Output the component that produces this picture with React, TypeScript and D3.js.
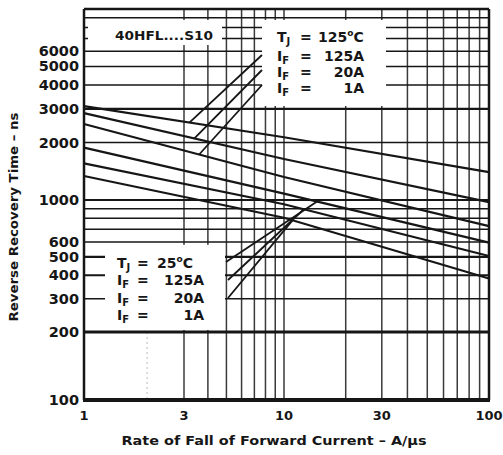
import React from 'react';
import * as d3 from 'd3';

const W = 503;
const H = 455;

// rate of fall of forward current, A/us
const rateTicks = [1, 3, 10, 30, 100];
const rateGrid = [3, 4, 5, 6, 7, 8, 9, 10, 20, 30, 40, 50, 60, 70, 80, 90];
const rateFaint = [2];

// reverse recovery time, ns
const timeTicks = [100, 200, 300, 400, 500, 600, 1000, 2000, 3000, 4000, 5000, 6000];
const timeGrid = [200, 300, 400, 500, 600, 700, 800, 900, 1000, 2000, 3000, 4000, 5000, 6000, 7000, 8000, 9000];
const heavyGrid: Record<number, number> = { 200: 3, 500: 2.4, 400: 2, 3000: 2.4, 1000: 2 };

// curves read at 1, 10, 100 A/us
const rates = [1, 10, 100];
const hot125A = [3100, 2130, 1400];
const hot20A = [2850, 1640, 975];
const hot1A = [2500, 1320, 727];
const cold125A = [1880, 1080, 595];
const cold20A = [1555, 950, 505];
const cold1A = [1336, 805, 384];

const hotCurves = [hot125A, hot20A, hot1A];
const coldCurves = [cold125A, cold20A, cold1A];

// where the legend pointers touch their curve (A/us)
const hotPointerRates = [3.2, 3.4, 3.6];
const coldPointerRates = [14.5, 12.5, 11];

const currents = ['125A', '20A', '1A'];

const FONT = '"DejaVu Sans", sans-serif';
const INK = '#161616';

// the scanned sheet is not quite uniform, so the log axes are piecewise
const x = d3.scaleLog().domain([1, 3, 10, 100]).range([84, 184, 284, 489]);
const y = d3.scaleLog().domain([100, 200, 1000, 10000]).range([400, 332, 200, 9]);

const left = x(1);
const right = x(100);
const top = y(10000);
const bottom = y(100);

const line = d3
  .line<number>()
  .x((_, i) => x(rates[i]))
  .y((d) => y(d));

// point on the drawn polyline at a given rate
function onCurve(values: number[], r: number): [number, number] {
  const px = x(r);
  let i = 0;
  while (i < rates.length - 2 && r > rates[i + 1]) i++;
  const x0 = x(rates[i]);
  const x1 = x(rates[i + 1]);
  const t = (px - x0) / (x1 - x0);
  return [px, y(values[i]) + t * (y(values[i + 1]) - y(values[i]))];
}

function Legend({
  tX, eqX, tempX, valEnd, rows, temp,
}: {
  tX: number; eqX: number; tempX: number; valEnd: number; rows: number[]; temp: string;
}) {
  const fs = 14;
  return (
    <g fontFamily={FONT} fontWeight="bold" fontSize={fs} fill={INK}>
      <text y={rows[0]}>
        <tspan x={tX}>T</tspan>
        <tspan dy={3} fontSize={10}>J</tspan>
        <tspan x={eqX} dy={-3}>=</tspan>
        <tspan x={tempX}>{temp}</tspan>
        <tspan dy={-6} fontSize={9}>o</tspan>
        <tspan dy={6}>C</tspan>
      </text>
      {currents.map((c, i) => (
        <g key={c}>
          <text y={rows[i + 1]}>
            <tspan x={tX}>I</tspan>
            <tspan dy={3} fontSize={10}>F</tspan>
            <tspan x={eqX} dy={-3}>=</tspan>
          </text>
          <text x={valEnd} y={rows[i + 1]} textAnchor="end">{c}</text>
        </g>
      ))}
    </g>
  );
}

export default function App() {
  const hotRows = [42, 61, 77, 93];
  const coldRows = [268, 285, 303, 320];
  const hotPointerEnds: [number, number][] = [[262, 55], [262, 70], [262, 85]];
  const coldPointerStarts: [number, number][] = [[226, 262], [228, 280], [228, 298]];

  return (
    <svg
      width={W}
      height={H}
      viewBox={`0 0 ${W} ${H}`}
      style={{ position: 'absolute', left: 0, top: 0, background: '#fff' }}
    >
      <rect width={W} height={H} fill="#fff" />

      {/* grid */}
      {rateGrid.map((r) => (
        <line key={'v' + r} x1={x(r)} x2={x(r)} y1={top} y2={bottom} stroke="#3a3a3a" strokeWidth={1.5} />
      ))}
      {rateFaint.map((r) => (
        <line key={'f' + r} x1={x(r)} x2={x(r)} y1={y(200)} y2={bottom} stroke="#bbb" strokeWidth={1} strokeDasharray="2,3" />
      ))}
      {timeGrid.map((t) => (
        <line key={'h' + t} x1={left} x2={right} y1={y(t)} y2={y(t)} stroke={INK} strokeWidth={heavyGrid[t] ?? 1.5} />
      ))}

      {/* blank boxes behind the texts */}
      <rect x={88} y={20} width={134} height={25} fill="#fff" />
      <rect x={262} y={20} width={124} height={86} fill="#fff" />
      <rect x={105} y={y(600) + 3} width={120} height={y(200) - y(600) - 5} fill="#fff" />

      {/* frame */}
      <line x1={left} x2={left} y1={top} y2={bottom} stroke={INK} strokeWidth={2.5} />
      <line x1={right} x2={right} y1={top} y2={bottom} stroke={INK} strokeWidth={2.5} />
      <line x1={left} x2={right} y1={top} y2={top} stroke={INK} strokeWidth={2.5} />
      <line x1={left - 1} x2={right + 1} y1={bottom} y2={bottom} stroke={INK} strokeWidth={4} />

      {/* curves */}
      {[...hotCurves, ...coldCurves].map((c, i) => (
        <path key={'c' + i} d={line(c) ?? ''} fill="none" stroke={INK} strokeWidth={2.2} />
      ))}

      {/* legend pointers */}
      {hotCurves.map((c, i) => {
        const [px, py] = onCurve(c, hotPointerRates[i]);
        const [ex, ey] = hotPointerEnds[i];
        return <line key={'hp' + i} x1={px} y1={py} x2={ex} y2={ey} stroke={INK} strokeWidth={1.8} />;
      })}
      {coldCurves.map((c, i) => {
        const [px, py] = onCurve(c, coldPointerRates[i]);
        const [sx, sy] = coldPointerStarts[i];
        return <line key={'cp' + i} x1={sx} y1={sy} x2={px} y2={py} stroke={INK} strokeWidth={1.8} />;
      })}

      {/* legends */}
      <text x={115} y={40} fontFamily={FONT} fontWeight="bold" fontSize={13} fill={INK} textLength={98} lengthAdjust="spacingAndGlyphs">
        40HFL....S10
      </text>
      <Legend tX={277} eqX={300} tempX={318} valEnd={364} rows={hotRows} temp="125" />
      <Legend tX={117} eqX={137} tempX={157} valEnd={204} rows={coldRows} temp="25" />

      {/* tick labels */}
      {timeTicks.map((t) => (
        <text key={'yt' + t} x={79} y={y(t) + 5} textAnchor="end" fontFamily={FONT} fontWeight="bold" fontSize={14.5} fill={INK}>
          {t}
        </text>
      ))}
      {rateTicks.map((r) => (
        <text key={'xt' + r} x={x(r)} y={420} textAnchor="middle" fontFamily={FONT} fontWeight="bold" fontSize={13} fill={INK}>
          {r}
        </text>
      ))}

      {/* axis titles */}
      <text x={274} y={445} textAnchor="middle" fontFamily={FONT} fontWeight="bold" fontSize={12} fill={INK} textLength={305} lengthAdjust="spacingAndGlyphs">
        Rate of Fall of Forward Current – A/µs
      </text>
      <text
        transform={`translate(18,217) rotate(-90)`}
        textAnchor="middle"
        fontFamily={FONT}
        fontWeight="bold"
        fontSize={12}
        fill={INK}
        textLength={209}
        lengthAdjust="spacingAndGlyphs"
      >
        Reverse Recovery Time – ns
      </text>
    </svg>
  );
}
